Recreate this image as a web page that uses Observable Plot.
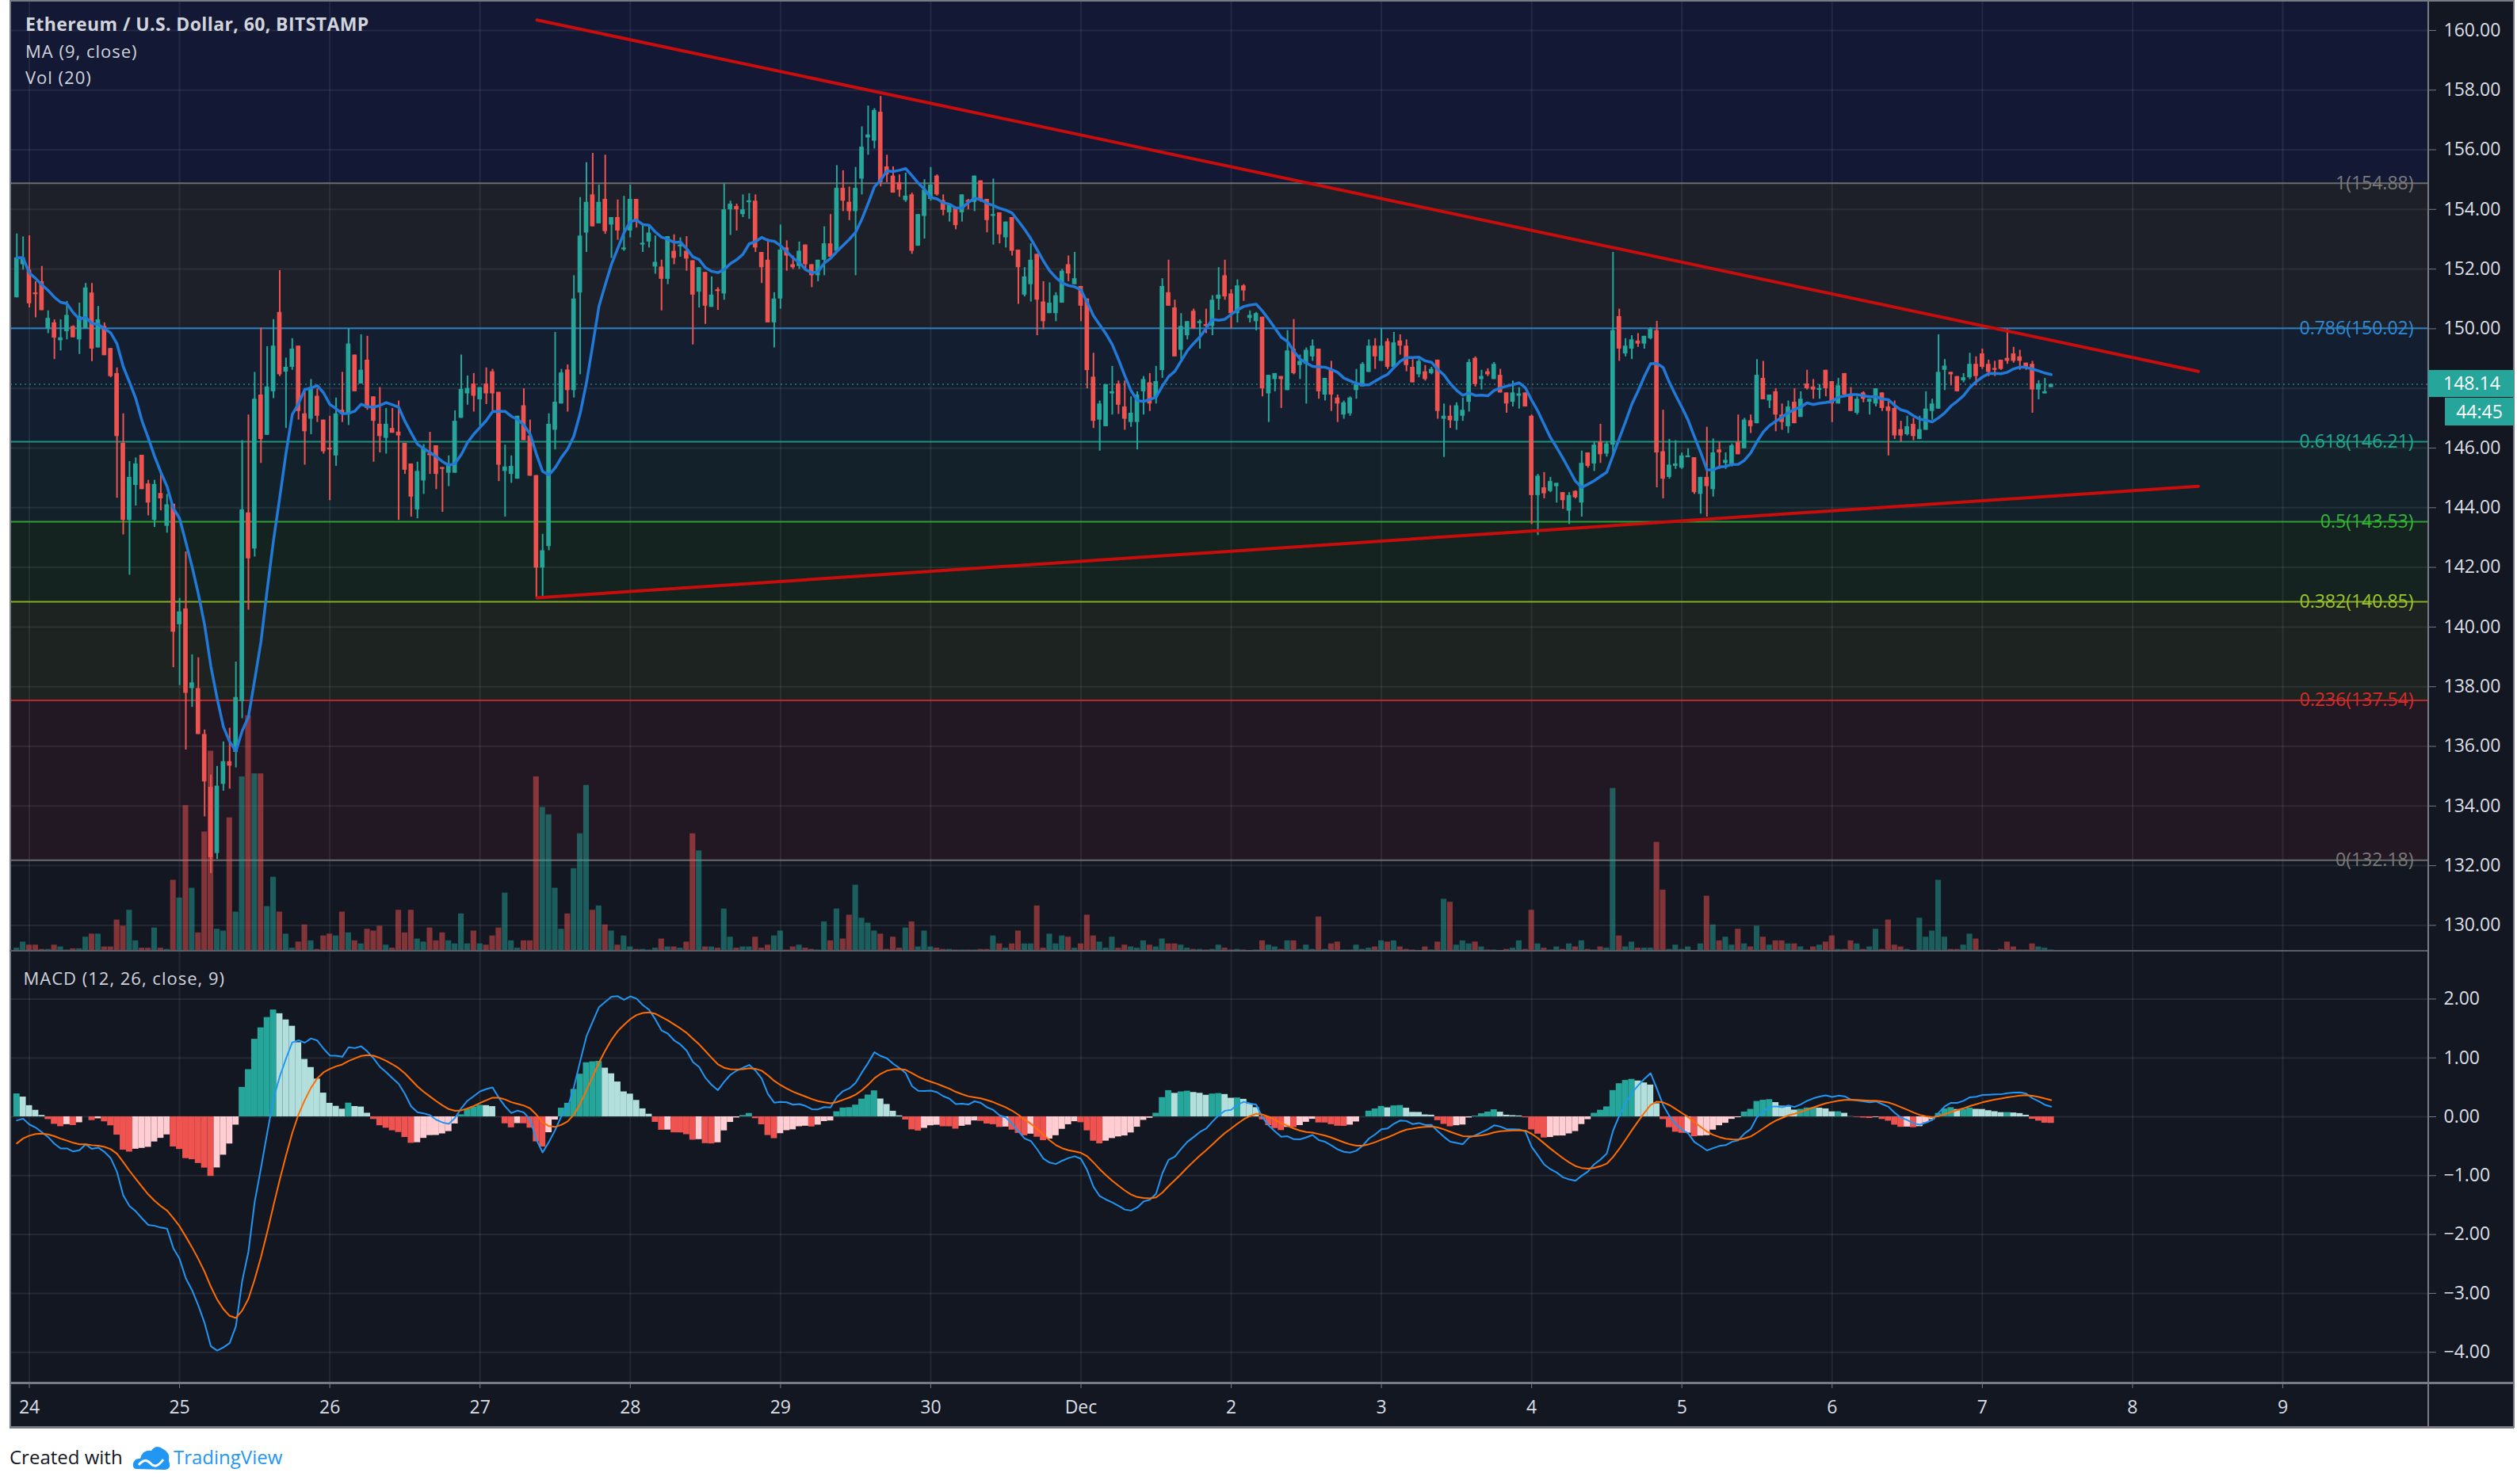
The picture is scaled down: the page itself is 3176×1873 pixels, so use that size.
<!DOCTYPE html>
<html><head><meta charset="utf-8">
<script src="https://cdn.jsdelivr.net/npm/d3@7"></script>
<script src="https://cdn.jsdelivr.net/npm/@observablehq/plot@0.6"></script>
<style>
html,body{margin:0;padding:0;background:#fff;}
#root{position:relative;width:3176px;height:1873px;overflow:hidden;background:#fff;font-family:"Open Sans",sans-serif;}
.abs{position:absolute;}
.lbl{position:absolute;color:#d1d4dc;font-size:22px;line-height:22px;white-space:nowrap;letter-spacing:1px;}
</style></head>
<body><div id="root"></div>
<script>
// ---------------- DATA (hourly candles, ETH/USD Bitstamp) ----------------
const openP = [151.04,152.15,151.97,151.20,151.58,150.00,150.20,149.60,149.90,150.08,
149.63,150.00,151.20,149.36,150.08,149.34,148.50,146.16,143.58,144.75,
145.76,144.80,143.58,144.48,143.38,144.12,140.08,140.61,137.94,137.94,
136.40,134.63,132.41,134.73,135.49,135.80,137.50,143.83,142.62,147.78,
146.43,147.89,150.55,148.55,148.71,149.42,147.15,146.97,147.74,146.94,
146.00,145.74,147.27,147.11,149.12,148.15,148.95,147.72,146.80,146.33,
146.66,146.54,146.16,145.47,143.93,144.90,145.80,146.08,145.35,145.16,
145.16,147.00,147.82,148.15,147.62,148.15,148.56,147.87,145.22,145.12,
144.96,147.42,146.41,145.08,141.98,142.70,146.60,147.48,148.62,147.93,
151.20,153.21,154.49,153.52,154.34,153.48,153.73,152.65,153.28,154.34,
152.81,152.91,152.07,152.07,151.66,152.60,152.75,152.60,152.28,151.23,
151.89,150.72,151.31,151.17,153.99,154.10,153.83,154.24,154.28,152.56,
152.30,150.20,151.00,152.71,152.15,152.09,152.81,152.15,151.78,152.30,
152.85,152.60,154.71,154.24,153.93,155.02,156.40,156.29,157.26,155.43,
155.12,154.90,154.30,154.49,152.77,153.77,154.34,155.12,154.30,153.89,
154.04,153.89,154.30,154.24,154.96,154.34,153.77,153.89,153.05,153.73,
152.64,151.13,151.48,152.50,150.90,150.51,150.51,150.86,152.15,151.48,
151.42,151.00,148.38,146.94,146.72,147.82,148.15,147.38,146.86,146.86,
147.89,148.19,147.68,148.60,151.21,150.70,149.28,149.77,150.59,150.18,
150.14,150.08,150.99,151.78,151.17,150.51,151.44,150.35,150.24,150.39,
147.82,148.30,148.40,147.93,149.32,148.77,148.81,149.06,149.32,147.78,
148.61,147.68,147.11,147.15,147.93,148.05,148.54,149.42,148.91,149.57,
148.71,149.59,149.42,148.71,148.46,148.56,148.50,148.95,146.97,147.07,
146.90,147.07,147.54,149.01,148.30,148.56,148.30,148.44,147.85,147.54,
147.74,147.85,147.07,144.41,144.67,144.55,144.71,144.51,143.89,144.55,
144.16,145.84,145.47,146.21,145.80,146.10,150.41,149.16,149.32,149.59,
149.49,149.67,149.94,145.88,145.02,145.39,145.33,145.68,145.68,144.45,
145.02,144.61,145.94,145.49,145.43,146.19,145.98,146.92,146.82,148.34,
147.58,147.89,147.11,146.72,147.54,147.03,148.15,148.05,147.95,148.61,
148.23,147.48,148.50,147.78,147.17,147.85,147.54,147.48,147.85,147.38,
147.33,146.62,146.45,146.80,146.29,146.60,147.23,147.31,148.61,148.54,
148.40,148.26,148.36,148.81,149.16,148.81,148.67,148.95,149.01,149.16,
149.06,148.85,148.81,147.95,147.82,148.03];
const highP = [153.18,153.08,153.12,151.58,152.09,150.60,150.30,150.30,150.92,150.10,
150.86,151.52,151.52,150.75,150.20,149.34,148.69,147.15,145.55,145.67,
145.76,144.92,144.92,145.18,144.45,144.12,140.96,142.52,139.07,138.97,
136.55,135.04,135.33,136.15,136.61,138.83,146.25,147.11,148.54,150.02,
149.40,150.31,151.95,149.02,149.67,149.42,147.89,148.30,147.99,146.94,
147.07,147.68,148.54,150.00,149.12,149.80,149.75,147.72,148.03,147.33,
147.33,147.58,146.16,145.47,145.53,146.12,146.53,146.08,145.35,145.74,
147.25,149.12,148.42,148.50,148.03,148.69,148.64,147.87,146.10,145.74,
147.07,147.99,146.94,145.08,143.11,147.15,149.88,148.64,148.79,151.78,
154.40,155.57,155.88,154.82,155.82,153.73,154.32,154.44,154.82,154.34,
153.52,153.46,153.11,152.30,153.09,153.15,153.05,153.09,152.28,152.05,
151.89,151.74,151.38,154.86,154.28,154.18,154.49,154.53,154.49,152.56,
153.01,151.21,153.48,152.95,152.44,152.91,152.81,152.15,152.30,153.42,
153.83,155.47,155.30,154.75,155.41,156.77,157.47,157.38,157.79,155.82,
155.43,155.16,155.22,154.55,153.83,155.00,155.41,155.16,154.49,154.14,
154.04,154.49,154.34,155.12,154.96,154.34,155.02,153.89,153.58,153.73,
152.64,152.05,152.85,152.50,151.58,151.54,151.21,151.99,152.44,152.56,
151.42,151.00,149.18,147.58,148.13,148.74,148.25,148.25,147.72,147.89,
148.40,148.50,148.74,151.68,152.30,150.96,150.51,150.24,150.66,150.30,
150.66,151.11,152.05,152.30,151.31,151.64,151.48,150.60,150.55,150.39,
148.44,148.50,148.40,149.94,150.31,149.12,149.36,149.63,149.32,148.34,
148.91,147.78,147.58,147.72,148.64,148.87,149.63,149.67,150.00,149.67,
149.88,149.80,149.63,148.97,148.97,148.77,148.71,148.95,147.48,147.42,
147.52,147.68,148.97,149.06,148.61,148.66,148.87,148.64,147.85,148.25,
148.03,147.85,147.11,145.12,145.18,145.02,144.82,144.51,144.51,144.57,
145.90,145.84,146.21,146.80,146.21,152.56,150.66,149.67,149.77,149.84,
149.75,150.04,150.25,147.27,146.29,146.25,145.84,145.98,145.68,145.02,
146.70,146.31,146.21,145.84,146.14,147.11,147.00,147.11,148.97,148.91,
147.78,147.99,147.48,147.58,147.99,147.89,148.61,148.30,148.13,148.61,
148.23,148.34,148.50,148.03,147.72,147.89,147.64,147.99,147.85,147.64,
147.58,146.90,147.07,147.00,147.07,147.89,147.64,149.80,148.97,148.54,
148.40,148.50,149.18,149.06,149.32,148.95,148.91,148.95,149.98,149.38,
149.28,148.85,148.91,148.26,148.34,148.15];
const lowP = [151.04,151.97,150.70,150.37,150.61,149.84,148.97,149.26,149.63,149.70,
149.14,150.00,148.90,149.36,149.10,148.36,144.32,143.09,141.74,144.06,
144.61,143.73,143.34,143.90,143.15,138.64,138.04,135.88,137.31,136.40,
133.64,131.74,132.21,134.50,134.57,135.28,136.93,140.57,142.35,145.49,
146.43,147.66,148.40,146.66,148.61,146.94,145.43,146.45,146.86,145.80,
144.24,145.39,146.86,146.76,147.89,148.15,147.27,145.53,145.84,145.80,
146.50,143.58,145.12,143.69,143.63,144.45,145.12,144.61,143.85,144.71,
145.16,147.00,147.44,147.21,146.66,147.46,147.21,144.88,143.69,144.82,
144.96,146.25,145.06,140.98,141.02,142.56,145.94,147.48,147.21,147.68,
148.46,152.56,153.42,153.52,153.17,152.36,152.97,152.60,153.05,153.38,
152.56,152.71,151.83,150.60,151.48,152.15,152.40,151.93,149.46,150.70,
150.15,150.72,150.62,150.96,153.13,153.28,153.73,153.67,152.56,151.52,
150.20,149.36,150.66,151.93,151.99,151.99,151.99,151.38,151.58,151.78,
152.40,152.60,153.93,153.63,151.78,154.49,155.82,156.03,154.76,154.90,
154.55,154.41,154.24,152.50,152.77,153.01,154.28,154.45,153.79,153.58,
153.32,153.58,153.99,153.93,154.24,153.22,152.81,152.85,152.71,152.44,
150.82,151.07,150.90,149.77,149.97,150.51,150.24,150.86,151.58,151.48,
150.24,147.99,146.66,145.90,146.72,147.11,147.13,146.60,146.70,145.94,
147.11,147.23,147.48,148.34,150.76,149.06,148.97,149.63,150.00,149.32,
149.84,149.77,150.62,150.96,150.00,150.20,150.92,150.20,149.93,147.72,
146.86,147.89,147.33,147.93,148.46,148.30,147.48,148.91,147.64,147.58,
147.23,146.86,146.97,147.07,147.64,148.05,148.54,148.64,148.91,148.64,
148.64,149.12,148.56,148.19,148.36,148.25,148.46,146.97,145.69,146.66,
146.60,146.90,147.21,148.05,147.95,148.40,148.30,147.85,147.17,147.38,
147.31,147.38,143.44,143.07,144.30,144.51,144.16,143.95,143.44,144.30,
143.69,145.33,145.22,145.49,145.70,145.74,148.91,149.06,148.97,149.38,
149.32,149.63,144.67,144.30,144.96,145.29,145.29,145.68,144.45,143.79,
143.69,144.36,145.29,145.29,145.37,145.78,145.98,146.49,146.82,147.62,
147.33,146.55,146.60,146.49,146.82,147.03,147.95,147.64,147.64,147.72,
146.86,147.48,147.72,147.23,147.11,147.52,147.11,147.38,147.23,145.74,
146.29,146.20,146.41,146.25,146.29,146.60,146.94,147.31,147.93,148.09,
147.89,148.19,148.30,148.09,148.64,148.40,148.40,148.61,148.81,148.85,
148.61,148.61,147.17,147.62,147.82,148.03];
const closeP = [152.38,152.38,150.84,151.15,150.61,150.35,149.69,149.70,150.45,149.70,
150.41,151.37,149.32,150.30,149.10,148.40,146.39,143.58,145.02,145.47,
144.61,144.16,144.78,144.30,144.10,139.83,140.51,137.78,138.13,136.40,
134.81,132.27,134.67,135.49,135.34,137.64,143.93,142.29,147.64,146.29,
148.05,149.42,148.46,148.71,149.32,147.23,146.55,148.03,147.07,145.88,
145.94,147.15,147.15,149.49,147.89,148.61,147.33,146.90,146.39,146.80,
146.50,146.41,145.26,144.36,145.22,145.98,145.76,145.12,145.29,145.43,
146.90,147.97,148.00,147.74,148.03,147.82,147.82,145.43,145.37,145.39,
147.07,146.25,145.06,141.98,142.56,146.80,147.54,148.52,147.93,151.00,
153.11,154.24,153.42,154.24,153.26,153.73,153.28,152.71,154.34,153.58,
152.87,153.21,152.23,151.66,153.09,152.36,152.81,152.34,151.13,152.05,
150.76,151.13,151.25,153.99,154.18,153.99,153.99,154.28,152.71,152.05,
150.20,151.00,152.64,152.44,152.05,152.60,152.15,151.78,152.30,152.85,
152.40,154.71,154.28,153.93,154.71,156.09,156.50,157.32,154.90,155.16,
154.55,154.65,154.45,152.60,153.83,154.65,154.82,154.49,153.97,154.14,
153.46,154.49,154.24,155.12,154.28,153.63,153.83,153.15,153.58,152.60,
152.05,151.74,152.30,150.96,150.24,150.86,151.11,151.93,151.84,151.68,
150.76,148.60,146.90,147.48,148.13,147.89,147.44,146.97,147.17,147.78,
148.30,147.48,148.23,151.42,150.76,149.06,150.08,150.24,150.00,150.24,
150.08,150.96,151.13,151.07,150.51,151.44,151.27,150.45,150.51,147.99,
148.44,148.50,148.30,149.26,148.50,148.91,149.28,149.42,147.89,148.34,
147.78,147.48,147.52,147.68,148.13,148.81,149.42,149.06,149.42,148.71,
149.53,149.42,148.77,148.19,148.91,148.30,148.64,147.23,147.07,146.92,
147.42,147.27,148.87,148.13,148.40,148.46,148.81,147.85,147.48,147.85,
147.82,147.38,144.41,145.06,144.47,144.88,144.82,144.24,144.41,144.34,
145.49,145.39,146.10,145.78,146.14,149.94,149.32,149.42,149.63,149.49,
149.75,149.98,145.84,144.96,145.43,145.47,145.74,145.74,144.51,145.02,
144.71,145.84,145.84,145.59,146.08,145.78,146.94,146.72,148.44,147.62,
147.78,147.11,146.86,147.38,146.82,147.64,147.99,147.95,147.99,147.99,
147.48,148.09,147.78,147.23,147.64,147.64,147.64,147.99,147.33,147.23,
146.41,146.41,146.72,146.39,146.62,147.31,147.48,148.54,148.75,148.46,
147.89,148.36,148.81,148.40,148.71,148.54,148.61,148.64,148.91,148.91,
148.91,148.67,147.95,148.15,147.89,148.14];
const volume = [0.5,1.5,1.0,1.0,0.3,0.3,1.0,0.7,0.2,0.4,
0.4,2.3,2.8,2.8,0.7,0.7,5.1,4.1,6.7,1.7,
0.5,0.5,3.8,0.5,0.3,11.6,8.7,23.8,10.3,3.0,
19.5,32.7,3.6,3.3,21.8,6.4,28.5,38.5,29.0,29.0,
7.3,12.1,6.4,2.8,0.5,1.5,4.3,1.7,0.3,2.5,
2.8,2.5,6.4,3.0,1.7,1.2,3.6,3.3,4.1,1.0,
0.5,6.7,3.0,6.7,2.0,1.5,3.8,1.7,3.0,1.7,
1.2,6.1,1.2,3.3,1.2,1.0,2.5,3.8,9.5,1.7,
0.5,1.7,1.7,28.5,23.5,22.3,10.3,3.6,6.1,13.5,
19.2,27.1,6.7,7.4,4.3,3.3,1.0,2.5,0.7,0.3,
0.3,0.2,0.5,2.0,0.7,0.7,0.5,1.5,19.2,16.4,
0.7,0.7,0.5,6.9,2.3,0.5,0.7,0.7,2.3,0.5,
1.0,2.5,3.3,0.2,0.7,1.0,0.5,0.3,0.2,4.8,
1.7,6.9,2.0,5.9,10.8,5.4,4.6,3.3,2.8,0.3,
2.3,0.5,3.8,4.8,0.7,3.3,0.7,0.5,0.3,0.3,
0.2,0.2,0.2,0.2,0.3,0.3,2.5,1.2,0.5,1.2,
3.3,1.2,1.2,7.4,0.5,2.8,1.2,2.5,2.3,0.5,
1.2,5.9,2.5,1.5,0.5,2.3,0.5,1.0,0.7,0.5,
1.7,1.0,0.7,2.0,1.2,1.2,1.0,0.5,0.3,0.3,
0.2,0.3,1.0,0.5,0.2,0.3,0.2,0.1,0.2,1.7,
1.0,0.7,0.3,1.7,1.7,0.3,1.0,0.3,5.6,0.3,
1.2,1.5,0.2,0.2,1.0,0.3,0.5,0.7,1.7,1.5,
1.7,0.7,0.3,0.2,0.1,0.7,0.2,1.5,8.5,8.0,
1.0,1.7,1.2,1.5,0.7,0.2,0.2,0.1,0.3,0.5,
1.7,0.3,6.7,1.2,0.5,0.2,0.7,0.3,1.2,0.7,
1.7,0.3,0.2,0.7,0.5,26.6,2.5,0.7,1.5,0.5,
0.5,0.5,17.8,10.0,0.3,1.0,0.3,0.7,0.1,1.2,
9.0,4.3,1.7,2.3,1.0,3.6,1.2,0.7,4.1,2.3,
1.0,1.7,1.7,1.2,1.2,0.7,0.2,0.7,1.0,1.5,
2.5,0.3,0.3,1.7,1.2,0.3,0.7,3.6,0.3,5.1,
1.0,0.7,0.3,0.1,5.4,2.3,3.3,11.6,2.3,0.3,
0.3,1.0,2.8,2.0,0.2,0.2,0.1,0.3,1.5,0.7,
0.2,0.2,1.2,0.7,0.5,0.2];

// Fibonacci retracement levels
const fibLevels = ["1", "0.786", "0.618", "0.5", "0.382", "0.236", "0"];
const fibPrices = [154.88, 150.02, 146.21, 143.53, 140.85, 137.54, 132.18];
const fibColors = ["#7a7a7a", "#2e8bd3", "#22a88c", "#35b535", "#9cc42c", "#d52b2b", "#7a7a7a"];
const bandFills = ["#131835", "#1e2029", "#131f30", "#13222a", "#14231f", "#1d2320", "#211823"];

// Trend lines (hours after first candle, price)
const trendHours = [83.1, 348.5];
const upperTrend = [160.35, 148.57];
const lowerTrend = [140.98, 144.72];

// Axis ticks / labels
const priceTicks = [130,132,134,136,138,140,142,144,146,148,150,152,154,156,158,160];
const macdTicks = [-4,-3,-2,-1,0,1,2];
const dayLabels = ["24","25","26","27","28","29","30","Dec","2","3","4","5","6","7","8","9"];
const currentPrice = 148.14;
const countdown = "44:45";

// Indicator state at the left edge
const ema12Seed = 152.0, ema26Seed = 152.1, signalSeed = -0.55;

// ---------------- BUILD ----------------
const HOUR = 3600e3;
const t0 = Date.UTC(2019, 10, 23, 22);
const W = 3176, ML = 13, MR = 112;
const xDomain = [new Date(t0 - 0.98 * HOUR), new Date(t0 + 385.3 * HOUR)];
const priceDomain = [129.134, 161.007];
const volDomain = [0, 155.4];
const macdDomain = [-4.522, 2.813];
const UP = "#26a69a", DOWN = "#ef5350";

const dayDates = d3.utcDay.range(new Date(Date.UTC(2019,10,24)), new Date(Date.UTC(2019,11,10)));
const labelOf = new Map(dayDates.map((d, i) => [+d, dayLabels[i]]));

const ma = closeP.map((_, i) => d3.mean(closeP.slice(Math.max(0, i - 8), i + 1)));
let e12 = ema12Seed, e26 = ema26Seed, sig = signalSeed;
const macd = [], signal = [], hist = [];
closeP.forEach(c => {
  e12 += (2 / 13) * (c - e12);
  e26 += (2 / 27) * (c - e26);
  const m = e12 - e26;
  sig += 0.2 * (m - sig);
  macd.push(m); signal.push(sig); hist.push(m - sig);
});

const candles = closeP.map((c, i) => ({
  date: new Date(t0 + i * HOUR), open: openP[i], high: highP[i], low: lowP[i], close: c,
  vol: volume[i], up: c >= openP[i], ma: ma[i],
  macd: macd[i], signal: signal[i], hist: hist[i],
  histColor: hist[i] >= 0
    ? (i > 0 && hist[i] < hist[i - 1] ? "#b2dfdb" : "#26a69a")
    : (i > 0 && hist[i] > hist[i - 1] ? "#ffcdd2" : "#ef5350")
}));
const bands = fibPrices.map((p, i) => ({hi: i === 0 ? priceDomain[1] : fibPrices[i - 1], lo: i === 0 ? fibPrices[0] : p, fill: bandFills[i]}));
const fib = fibPrices.map((p, i) => ({price: p, color: fibColors[i], label: `${fibLevels[i]}(${p.toFixed(2)})`}));
const trendU = trendHours.map((h, i) => ({date: new Date(t0 + h * HOUR), p: upperTrend[i]}));
const trendL = trendHours.map((h, i) => ({date: new Date(t0 + h * HOUR), p: lowerTrend[i]}));

const common = {
  width: W, marginLeft: ML, marginRight: MR,
  x: {type: "utc", domain: xDomain, axis: null},
  color: {type: "identity"},
  style: {background: "transparent", fontFamily: '"Open Sans", sans-serif', overflow: "visible"}
};
const half = f => d => new Date(+d.date + f * HOUR);

const priceBg = Plot.plot({
  ...common, height: 1200, marginTop: 0, marginBottom: 0,
  y: {domain: priceDomain},
  marks: [
    Plot.rect(bands, {y1: "lo", y2: "hi", fill: "fill"}),
    Plot.gridX({ticks: dayDates, stroke: "#ffffff", strokeOpacity: 0.07, strokeWidth: 2}),
    Plot.gridY({ticks: priceTicks, stroke: "#ffffff", strokeOpacity: 0.07, strokeWidth: 2}),
    Plot.ruleY(fib, {y: "price", stroke: "color", strokeWidth: 2, strokeOpacity: 0.85}),
    Plot.text(fib, {y: "price", text: "label", frameAnchor: "right", dx: -19, textAnchor: "end", fill: "color", fontSize: 23}),
    Plot.axisY({anchor: "right", ticks: priceTicks, tickSize: 9, tickFormat: () => "", stroke: "#787b86"}),
    Plot.axisY({anchor: "right", ticks: priceTicks, tickSize: 0, tickPadding: 19, tickFormat: d3.format(".2f"), fill: "#dcdfe6", fontSize: 23})
  ]
});

const volPlot = Plot.plot({
  ...common, height: 1200, marginTop: 0, marginBottom: 0,
  y: {domain: volDomain, axis: null},
  marks: [
    Plot.rect(candles, {x1: half(-0.45), x2: half(0.45), y1: 0, y2: "vol", fill: d => d.up ? UP : DOWN, fillOpacity: 0.5})
  ]
});

const candlePlot = Plot.plot({
  ...common, height: 1200, marginTop: 0, marginBottom: 0,
  y: {domain: priceDomain, axis: null},
  marks: [
    Plot.ruleY([currentPrice], {stroke: UP, strokeDasharray: "2,4", strokeWidth: 1.5, strokeOpacity: 0.7}),
    Plot.ruleX(candles, {x: "date", y1: "low", y2: "high", stroke: d => d.up ? UP : DOWN, strokeWidth: 2}),
    Plot.rect(candles, {
      x1: half(-0.36), x2: half(0.36),
      y1: d => Math.abs(d.open - d.close) < 0.06 ? (d.open + d.close) / 2 - 0.03 : d.open,
      y2: d => Math.abs(d.open - d.close) < 0.06 ? (d.open + d.close) / 2 + 0.03 : d.close,
      fill: d => d.up ? UP : DOWN
    }),
    Plot.line(candles, {x: "date", y: "ma", stroke: "#2179d8", strokeWidth: 3.5}),
    Plot.line(trendU, {x: "date", y: "p", stroke: "#c90d0d", strokeWidth: 4}),
    Plot.line(trendL, {x: "date", y: "p", stroke: "#c90d0d", strokeWidth: 4})
  ]
});

const macdPlot = Plot.plot({
  ...common, height: 602, marginTop: 0, marginBottom: 57,
  y: {domain: macdDomain},
  marks: [
    Plot.gridX({ticks: dayDates, stroke: "#ffffff", strokeOpacity: 0.07, strokeWidth: 2}),
    Plot.gridY({ticks: macdTicks, stroke: "#ffffff", strokeOpacity: 0.08, strokeWidth: 2}),
    Plot.rect(candles, {x1: half(-0.5), x2: half(0.5), y1: 0, y2: "hist", fill: "histColor"}),
    Plot.line(candles, {x: "date", y: "macd", stroke: "#2196f3", strokeWidth: 2}),
    Plot.line(candles, {x: "date", y: "signal", stroke: "#ff6d00", strokeWidth: 2}),
    Plot.axisY({anchor: "right", ticks: macdTicks, tickSize: 9, tickFormat: () => "", stroke: "#787b86"}),
    Plot.axisY({anchor: "right", ticks: macdTicks, tickSize: 0, tickPadding: 19, tickFormat: d3.format(".2f"), fill: "#dcdfe6", fontSize: 23}),
    Plot.axisX({ticks: dayDates, tickSize: 7, tickFormat: () => "", stroke: "#787b86"}),
    Plot.axisX({ticks: dayDates, tickSize: 0, tickPadding: 22, tickFormat: d => labelOf.get(+d), fill: "#dcdfe6", fontSize: 23})
  ]
});

// ---------------- ASSEMBLE ----------------
const root = document.getElementById("root");
function box(x, y, w, h, bg) {
  const d = document.createElement("div");
  d.className = "abs";
  Object.assign(d.style, {left: x + "px", top: y + "px", width: w + "px", height: h + "px", background: bg});
  root.appendChild(d); return d;
}
function put(el, x, y) { el.style.position = "absolute"; el.style.left = x + "px"; el.style.top = y + "px"; root.appendChild(el); }
function label(text, x, y, opts = {}) {
  const d = document.createElement("div");
  d.className = "lbl"; d.textContent = text;
  d.style.left = x + "px"; d.style.top = y + "px";
  Object.assign(d.style, opts);
  root.appendChild(d); return d;
}

box(12, 0, 3160, 1802, "#131722");
put(priceBg, 0, 0);
put(volPlot, 0, 0);
put(candlePlot, 0, 0);
put(macdPlot, 0, 1200);

// frame / separators
const sep = "#787b86";
box(12, 0, 2, 1802, sep);
box(12, 0, 3160, 2, sep);
box(12, 1199, 3052, 2, "#5d606b");
box(12, 1744, 3160, 3, sep);
box(12, 1800, 3160, 3, sep);
box(3063, 0, 2, 1802, sep);
box(3171, 0, 2, 1802, sep);

// legends
label("Ethereum / U.S. Dollar, 60, BITSTAMP", 32, 19, {fontWeight: "700", fontSize: "23px", letterSpacing: "0.4px"});
label("MA (9, close)", 32, 52.5);
label("Vol (20)", 32, 85.5);
label("MACD (12, 26, close, 9)", 29.5, 1222.5);

// current price tag
const yCur = candlePlot.scale("y").apply(currentPrice);
box(3064, yCur - 17, 108, 34, UP);
label(currentPrice.toFixed(2), 3083, yCur - 12, {color: "#ffffff", fontSize: "23px", letterSpacing: "0px"});
box(3085, yCur + 18, 87, 35, UP);
label(countdown, 3085, yCur + 24, {color: "#ffffff", fontSize: "23px", width: "87px", textAlign: "center", letterSpacing: "0px"});

// footer
label("Created with", 12, 1827, {color: "#131722", fontSize: "24px", lineHeight: "24px", letterSpacing: "0px"});
const logo = document.createElementNS("http://www.w3.org/2000/svg", "svg");
logo.setAttribute("width", "52"); logo.setAttribute("height", "40");
logo.innerHTML = '<path d="M6 34 Q1 34 2 27 Q4 20 11 21 Q14 9 25 11 Q31 2 40 9 Q49 13 47 24 Q51 34 42 35 Z" fill="#2196f3"/><path d="M9 29 Q17 19 24 27 Q31 35 40 22" stroke="#fff" stroke-width="3" fill="none"/>';
put(logo, 166, 1820);
label("TradingView", 219, 1827, {color: "#2196f3", fontSize: "24px", lineHeight: "24px", letterSpacing: "0px"});
</script>
</body></html>
